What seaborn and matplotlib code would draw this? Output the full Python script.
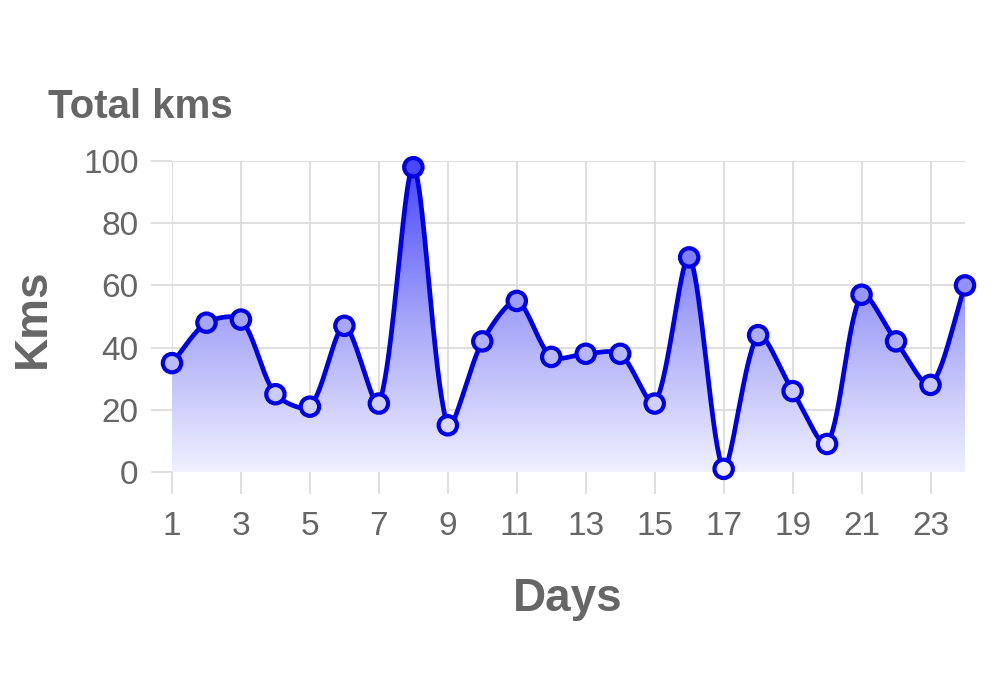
import numpy as np
import pandas as pd
import matplotlib
matplotlib.use("Agg")
import matplotlib.pyplot as plt
import seaborn as sns
from matplotlib.colors import LinearSegmentedColormap

# data
days = list(range(1, 25))
kms = [35, 48, 49, 25, 21, 47, 22, 98, 15, 42, 55, 37,
       38, 38, 22, 69, 1, 44, 26, 9, 57, 42, 28, 60]
x_ticks = list(range(1, 24, 2))
y_ticks = [0, 20, 40, 60, 80, 100]

GRAY = "#666666"
GRID = "#dcdcdc"
LINE = "#0000e6"

sns.set_theme(style="white")
plt.rcParams["font.family"] = ["Liberation Sans", "DejaVu Sans"]

fig = plt.figure(figsize=(10, 6.73), dpi=100)
ax = fig.add_axes([0.172, 0.2987, 0.793, 0.4621])
ax.set_xlim(1, 24)
ax.set_ylim(0, 100)


def spline(xs, ys, sx, sy, t=0.28):
    """Chart.js style bezier spline, control points computed in pixel space."""
    px = np.asarray(xs, float) * sx
    py = np.asarray(ys, float) * sy
    n = len(px)
    cp_prev, cp_next = [], []
    for i in range(n):
        p0 = (px[max(i - 1, 0)], py[max(i - 1, 0)])
        p1 = (px[i], py[i])
        p2 = (px[min(i + 1, n - 1)], py[min(i + 1, n - 1)])
        d01 = np.hypot(p1[0] - p0[0], p1[1] - p0[1])
        d12 = np.hypot(p2[0] - p1[0], p2[1] - p1[1])
        tot = d01 + d12
        s01 = d01 / tot if tot else 0
        s12 = d12 / tot if tot else 0
        fa, fb = t * s01, t * s12
        cp_prev.append((p1[0] - fa * (p2[0] - p0[0]), p1[1] - fa * (p2[1] - p0[1])))
        cp_next.append((p1[0] + fb * (p2[0] - p0[0]), p1[1] + fb * (p2[1] - p0[1])))
    lo, hi = 0, 100 * sy
    ox, oy = [], []
    tt = np.linspace(0, 1, 40)
    for i in range(n - 1):
        a = np.array([px[i], py[i]])
        b = np.array(cp_next[i]); b[1] = np.clip(b[1], lo, hi)
        c = np.array(cp_prev[i + 1]); c[1] = np.clip(c[1], lo, hi)
        d = np.array([px[i + 1], py[i + 1]])
        seg = ((1 - tt)[:, None] ** 3 * a + 3 * ((1 - tt) ** 2 * tt)[:, None] * b
               + 3 * ((1 - tt) * tt ** 2)[:, None] * c + (tt ** 3)[:, None] * d)
        ox.extend(seg[:, 0] / sx)
        oy.extend(seg[:, 1] / sy)
    return np.array(ox), np.array(oy)


sx, sy = 793 / 23, 311 / 100
cx, cy = spline(days, kms, sx, sy)
curve = pd.DataFrame({"day": cx, "kms": cy})

# gradient fill under the curve
cmap = LinearSegmentedColormap.from_list("fill", ["#f0f0ff", "#a4a4f8", "#4444ff"])
poly = ax.fill_between(cx, 0, cy, color="none", lw=0)
grad = np.linspace(0, 1, 256).reshape(-1, 1)
img = ax.imshow(grad, cmap=cmap, origin="lower", aspect="auto",
                extent=[1, 24, 0, 100], zorder=1)
img.set_clip_path(poly.get_paths()[0], transform=ax.transData)

sns.lineplot(data=curve, x="day", y="kms", ax=ax, color=LINE, lw=3.4,
             sort=False, estimator=None, zorder=3, clip_on=False)

face = [cmap(v / 100) for v in kms]
ax.scatter(days, kms, s=175, facecolors=face, edgecolors=LINE,
           linewidths=3, zorder=4, clip_on=False)

ax.set_xticks(x_ticks)
ax.set_yticks(y_ticks)
ax.grid(True, color=GRID, lw=1.3)
ax.set_axisbelow(True)
for s in ax.spines.values():
    s.set_visible(False)
ax.tick_params(axis="x", bottom=True, length=16, width=1.3, color=GRID, pad=12,
               labelsize=24, labelcolor=GRAY)
ax.tick_params(axis="y", left=True, length=15, width=1.3, color=GRID, pad=9,
               labelsize=24, labelcolor=GRAY)

ax.set_xlabel("Days", fontsize=33, fontweight="bold", color=GRAY)
ax.set_ylabel("Kms", fontsize=33, fontweight="bold", color=GRAY)
ax.xaxis.label.set_va("center")
ax.yaxis.label.set_va("center")
ax.xaxis.set_label_coords(0.4994, -0.41)
ax.yaxis.set_label_coords(-0.175, 0.495)

fig.text(0.048, 0.841, "Total kms", fontsize=29, fontweight="bold",
         color=GRAY, ha="left", va="center")

fig.savefig("out.png", dpi=100, facecolor="white")
